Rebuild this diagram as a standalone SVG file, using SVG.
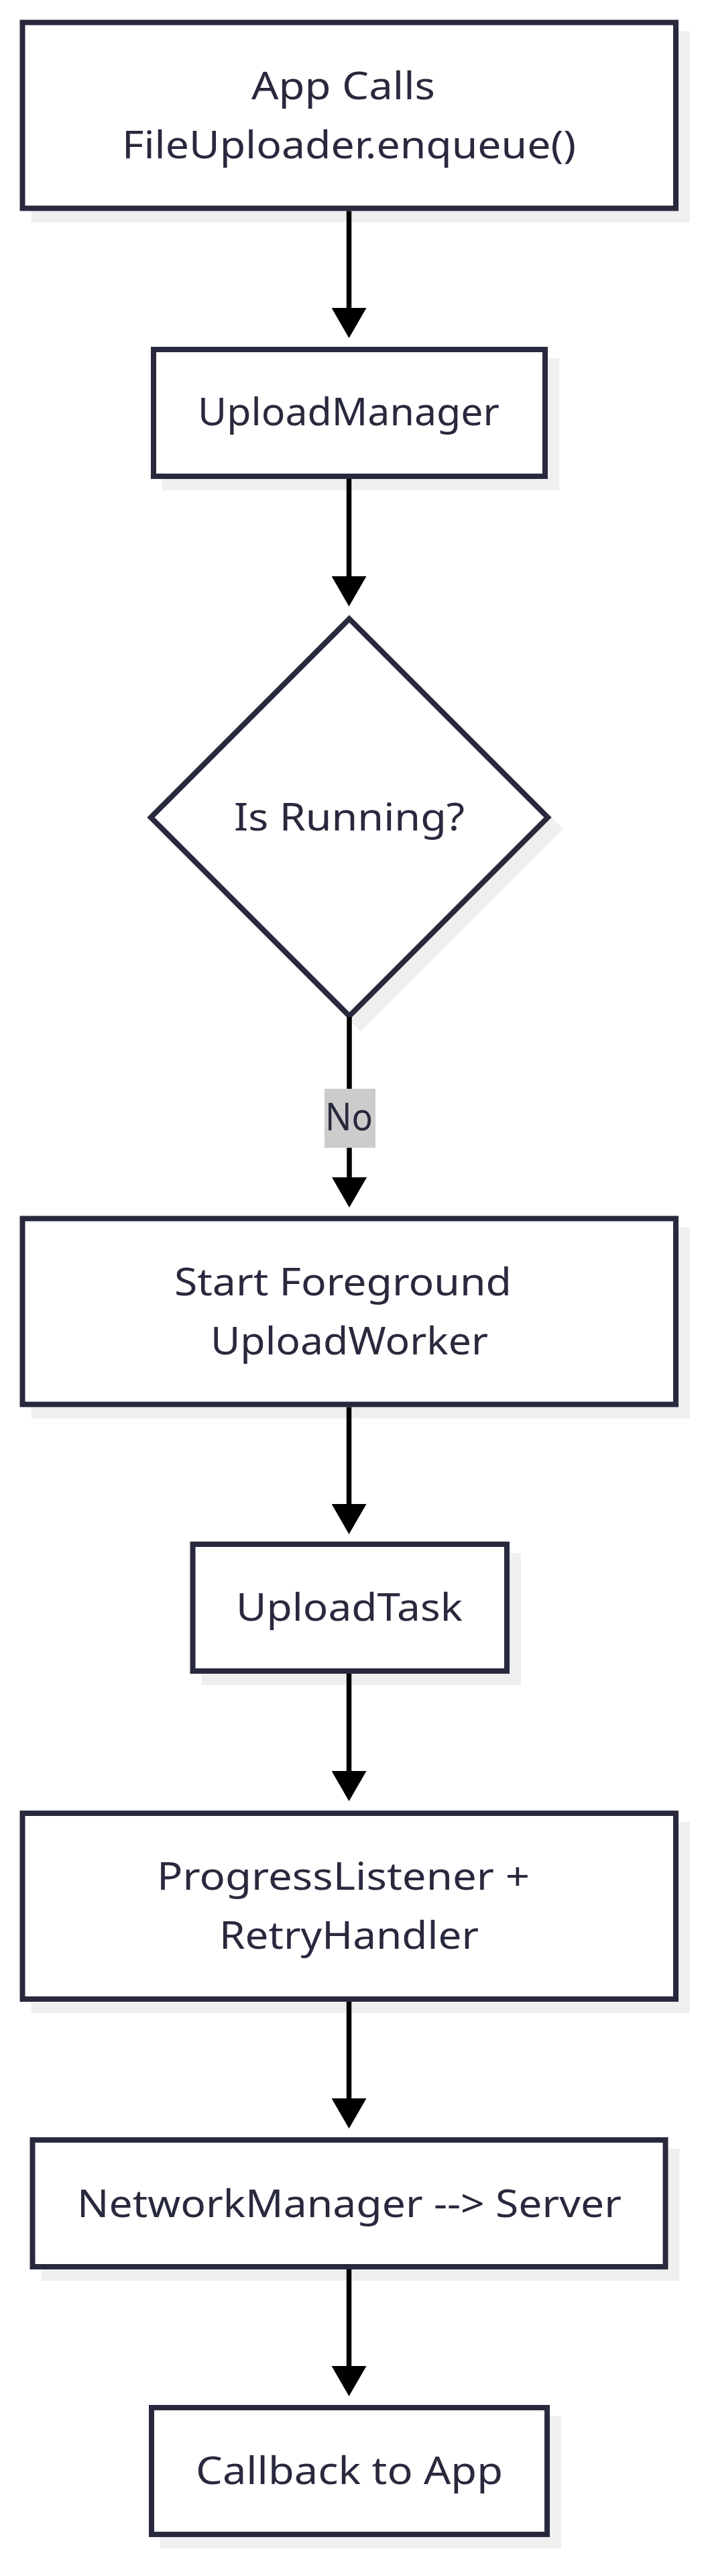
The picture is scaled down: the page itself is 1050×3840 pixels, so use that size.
<svg xmlns="http://www.w3.org/2000/svg" width="1050" height="3840" viewBox="0 0 1050 3840">
<style>
  .box { fill: #ffffff; stroke: #29293e; stroke-width: 8; }
  .shadow { fill: #efefef; stroke: #efefef; stroke-width: 8; }
  .lbl { font-family: "Noto Sans", "Open Sans", sans-serif; font-size: 57px; fill: #29293e; }
  .edge { fill: none; stroke: #000000; stroke-width: 7.5; }
  .edge-bg { fill: #cccccc; }
</style>
<defs>
  <marker id="arrowhead" markerUnits="userSpaceOnUse" viewBox="0 0 45 52" markerWidth="45" markerHeight="52" refX="1" refY="26" orient="auto">
    <path d="M0,0 L45,26 L0,52 Z" fill="#000000"/>
  </marker>
</defs>
<rect x="0" y="0" width="1050" height="3840" fill="#ffffff"/>

<g id="node-app-calls">
  <rect class="shadow" x="50.5" y="50.5" width="974.5" height="277"/>
  <rect class="box" x="33.5" y="33.5" width="974.5" height="277"/>
  <text class="lbl" x="375" y="148" textLength="274" lengthAdjust="spacingAndGlyphs">App Calls</text>
  <text class="lbl" x="182" y="235.5" textLength="677" lengthAdjust="spacingAndGlyphs">FileUploader.enqueue()</text>
</g>

<g id="node-upload-manager">
  <rect class="shadow" x="246" y="538" width="584" height="189"/>
  <rect class="box" x="229" y="521" width="584" height="189"/>
  <text class="lbl" x="295" y="634" textLength="450" lengthAdjust="spacingAndGlyphs">UploadManager</text>
</g>

<g id="node-is-running">
  <polygon class="shadow" points="538,939.5 834,1235.5 538,1531.5 242,1235.5"/>
  <polygon class="box" points="521,922.5 817,1218.5 521,1514.5 225,1218.5"/>
  <text class="lbl" x="349" y="1238" textLength="344" lengthAdjust="spacingAndGlyphs">Is Running?</text>
</g>

<g id="node-start-foreground">
  <rect class="shadow" x="50.5" y="1833.5" width="974.5" height="277"/>
  <rect class="box" x="33.5" y="1816.5" width="974.5" height="277"/>
  <text class="lbl" x="260" y="1930.5" textLength="503" lengthAdjust="spacingAndGlyphs">Start Foreground</text>
  <text class="lbl" x="314" y="2018.5" textLength="414" lengthAdjust="spacingAndGlyphs">UploadWorker</text>
</g>

<g id="node-upload-task">
  <rect class="shadow" x="304.5" y="2319" width="468.5" height="189"/>
  <rect class="box" x="287.5" y="2302" width="468.5" height="189"/>
  <text class="lbl" x="352" y="2416" textLength="338" lengthAdjust="spacingAndGlyphs">UploadTask</text>
</g>

<g id="node-progress-retry">
  <rect class="shadow" x="50.5" y="2720" width="974.5" height="277"/>
  <rect class="box" x="33.5" y="2703" width="974.5" height="277"/>
  <text class="lbl" x="234" y="2817" textLength="556" lengthAdjust="spacingAndGlyphs">ProgressListener +</text>
  <text class="lbl" x="327" y="2905" textLength="387" lengthAdjust="spacingAndGlyphs">RetryHandler</text>
</g>

<g id="node-network-manager">
  <rect class="shadow" x="65.5" y="3207" width="944" height="189"/>
  <rect class="box" x="48.5" y="3190" width="944" height="189"/>
  <text class="lbl" x="115" y="3305" textLength="812" lengthAdjust="spacingAndGlyphs">NetworkManager --&gt; Server</text>
</g>

<g id="node-callback">
  <rect class="shadow" x="243" y="3606" width="590" height="189"/>
  <rect class="box" x="226" y="3589" width="590" height="189"/>
  <text class="lbl" x="292" y="3703" textLength="458" lengthAdjust="spacingAndGlyphs">Callback to App</text>
</g>

<g id="connectors">
  <path class="edge" d="M520.5,314.5 L520.5,460" marker-end="url(#arrowhead)"/>
  <path class="edge" d="M520.5,714 L520.5,860" marker-end="url(#arrowhead)"/>
  <path class="edge" d="M521,1516 L521,1756" marker-end="url(#arrowhead)"/>
  <path class="edge" d="M520.5,2097.5 L520.5,2243" marker-end="url(#arrowhead)"/>
  <path class="edge" d="M520.5,2495 L520.5,2641" marker-end="url(#arrowhead)"/>
  <path class="edge" d="M520.5,2984 L520.5,3129" marker-end="url(#arrowhead)"/>
  <path class="edge" d="M520.5,3383 L520.5,3528" marker-end="url(#arrowhead)"/>
  <g id="edge-label-no">
    <rect class="edge-bg" x="484" y="1623" width="76" height="88"/>
    <text class="lbl" x="485" y="1685" textLength="71" lengthAdjust="spacingAndGlyphs">No</text>
  </g>
</g>
</svg>
